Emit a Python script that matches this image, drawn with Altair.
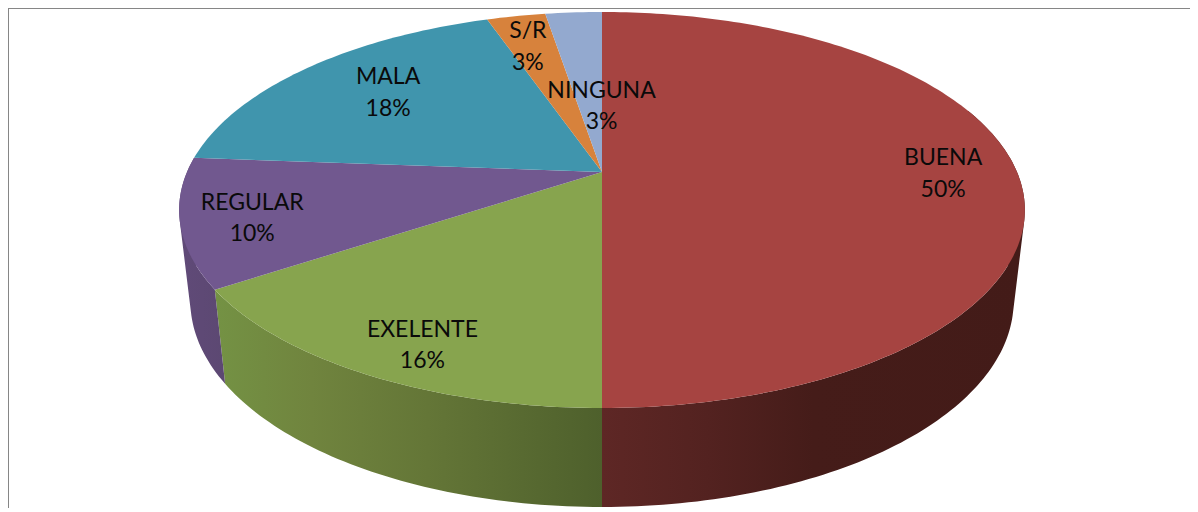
import math
import altair as alt

# ---- data -----------------------------------------------------------
categories = ["BUENA", "EXELENTE", "REGULAR", "MALA", "S/R", "NINGUNA"]
values = [50.0, 15.7, 10.5, 18.5, 2.7, 2.6]
percent_labels = ["50%", "16%", "10%", "18%", "3%", "3%"]
colors = ["#A64441", "#87A44E", "#71588F", "#4095AD", "#D7823C", "#93A9CF"]

# ---- styling / layout ------------------------------------------------
W, H = 1182, 500
PAGE = 8
FONT = "Lato"
FONT_SIZE = 23
LINE_H = 31.5
LABEL_R = [0.822, 0.852, 0.837, 0.725, 0.79, 0.377]
LABEL_DTHETA = [0, -2.6, -0.9, 1.7, -0.8, 4.5]
TOP = dict(cx=602, cy=172, a=415, b=190.7, k=0.192)
BOT = dict(cx=602, cy=261.4, a=404, b=198.4, k=0.192)
WALL_GRADIENTS = {
    "BUENA": [(0, "#5E2725"), (0.25, "#532220"), (0.5, "#451C19"), (1, "#431B18")],
    "EXELENTE": [(0, "#749244"), (0.25, "#70843E"), (0.55, "#647637"), (1, "#4E602C")],
    "REGULAR": [(0, "#604A78"), (1, "#5C4872")],
}
WALL_FROM = {"BUENA": 70}
PROJ = dict(type="identity", scale=1, translate=[-PAGE, -PAGE])


def project(geom, theta, r=1.0):
    u = r * math.sin(math.radians(theta))
    v = -r * math.cos(math.radians(theta))
    d = 1 - geom["k"] * v
    return [geom["cx"] + geom["a"] * u / d, geom["cy"] + geom["b"] * v / d]


def sweep(a, b):
    n = max(2, int(abs(b - a)))
    return [a + (b - a) * i / n for i in range(n + 1)]


starts, run = [], 0.0
total = sum(values)
for val in values:
    starts.append(run)
    run += val * 360 / total

features, label_rows, walls = [], [], []
for i, cat in enumerate(categories):
    a, b = starts[i], starts[i] + values[i] * 360 / total
    ring = [[TOP["cx"], TOP["cy"]]] + [project(TOP, t) for t in sweep(a, b)]
    ring.append(ring[0])
    features.append({"type": "Feature", "properties": {"name": cat},
                     "geometry": {"type": "Polygon", "coordinates": [ring]}})
    mid = (a + b) / 2 + LABEL_DTHETA[i]
    x, y = project(TOP, mid, LABEL_R[i])
    label_rows.append({"lon": x, "lat": y, "text": cat + "\n" + percent_labels[i]})
    if cat in WALL_GRADIENTS:
        ts = sweep(max(a, WALL_FROM.get(cat, a)), b)
        quads = []
        for t0, t1 in zip(ts[:-1], ts[1:]):
            q = [project(TOP, t0), project(TOP, t1), project(BOT, t1), project(BOT, t0)]
            area = sum(q[j][0] * q[(j + 1) % 4][1] - q[(j + 1) % 4][0] * q[j][1] for j in range(4))
            if area < 0:
                q = q[::-1]
            quads.append([q + [q[0]]])
        walls.append((cat, quads))

layers = []
for cat, quads in walls:
    grad = alt.Gradient(gradient="linear", x1=0, y1=0, x2=1, y2=0,
                        stops=[alt.GradientStop(offset=o, color=c) for o, c in WALL_GRADIENTS[cat]])
    layers.append(
        alt.Chart(alt.InlineData(values={"type": "FeatureCollection", "features": [
            {"type": "Feature", "properties": {"name": cat},
             "geometry": {"type": "MultiPolygon", "coordinates": quads}}]},
            format=alt.DataFormat(type="json", property="features")))
        .mark_geoshape(fill=grad, strokeWidth=0)
        .project(**PROJ)
    )

top_face = (
    alt.Chart(alt.InlineData(values={"type": "FeatureCollection", "features": features},
                             format=alt.DataFormat(type="json", property="features")))
    .mark_geoshape(strokeWidth=0)
    .encode(color=alt.Color("properties.name:N", legend=None,
                            scale=alt.Scale(domain=categories, range=colors)))
    .project(**PROJ)
)

text = (
    alt.Chart(alt.Data(values=label_rows))
    .mark_text(font=FONT, fontSize=FONT_SIZE, color="#0A0A0A", align="center",
               baseline="middle", lineBreak="\n", lineHeight=LINE_H, dy=-14)
    .encode(longitude="lon:Q", latitude="lat:Q", text="text:N")
    .project(**PROJ)
)

left_rule = alt.Chart(alt.Data(values=[{"k": 0}])).mark_rule(color="#868686", strokeWidth=2).encode(
    x=alt.value(0), y=alt.value(0), y2=alt.value(H))
top_rule = alt.Chart(alt.Data(values=[{"k": 0}])).mark_rule(color="#868686", strokeWidth=2).encode(
    y=alt.value(0), x=alt.value(0), x2=alt.value(W))

chart = (
    alt.layer(*layers, top_face, text, left_rule, top_rule)
    .properties(width=W, height=H, padding=0, autosize=alt.AutoSizeParams(type="none"),
                background="white")
    .configure_view(stroke=None)
)

chart.save("out.html", embed_options={"renderer": "svg", "actions": False})
